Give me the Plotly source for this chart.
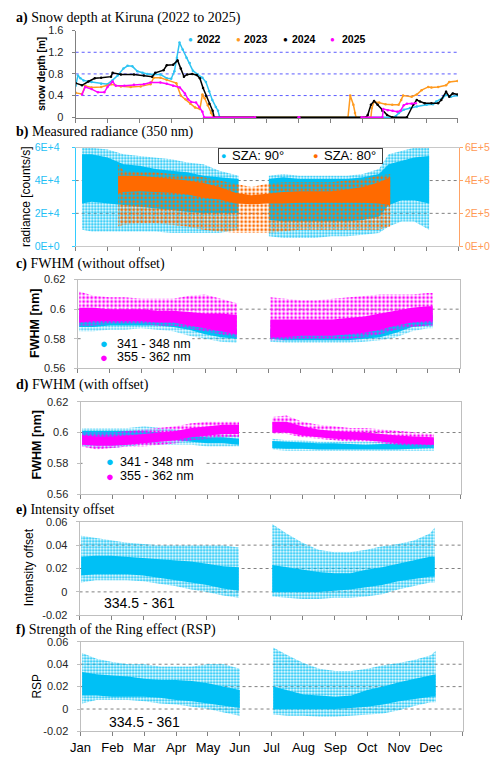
import plotly.graph_objects as go

W, H = 500, 763
def fx(px): return px / W
def fy(py): return 1 - py / H

months = ['Jan', 'Feb', 'Mar', 'Apr', 'May', 'Jun', 'Jul', 'Aug', 'Sep', 'Oct', 'Nov', 'Dec']

# ---------------- a) snow depth (x in months since Jan 1) ----------------
a22_x = [0, 0.07, 0.15, 0.25, 0.5, 0.8, 1.0, 1.15, 1.32, 1.5, 1.63, 1.78, 1.94, 2.1, 2.25, 2.45, 2.66, 2.86, 3.0, 3.1,
         3.18, 3.26, 3.36, 3.48, 3.58, 3.68, 3.83, 3.98, 4.09, 4.19, 4.29, 4.4, 4.47, 4.52, 10.0,
         10.05, 10.15, 10.3, 10.5, 10.71, 11.02, 11.22, 11.32, 11.53, 11.63, 11.78, 11.99]
a22_y = [0.58, 0.77, 0.72, 0.68, 0.65, 0.62, 0.61, 0.68, 0.77, 0.9, 0.95, 0.94, 0.85, 0.82, 0.8, 0.79, 0.79, 0.72, 0.71, 0.85,
         1.1, 1.38, 1.25, 1.1, 1.0, 0.86, 0.79, 0.73, 0.65, 0.48, 0.32, 0.19, 0.12, 0.0, 0.0,
         0.02, 0.08, 0.14, 0.17, 0.2, 0.23, 0.24, 0.29, 0.36, 0.41, 0.38, 0.4]

a23_x = [0, 0.2, 0.3, 0.5, 0.8, 1.11, 1.42, 1.73, 2.04, 2.35, 2.45, 2.66, 2.86, 3.16, 3.3, 3.45, 3.6, 3.75, 3.9, 3.98,
         4.05, 4.15, 4.25, 4.32, 8.55, 8.62, 8.72, 8.77, 8.8, 9.27, 9.3, 9.37, 9.53, 9.73, 9.94, 10.14, 10.22,
         10.28, 10.55, 10.71, 10.86, 11.07, 11.17, 11.38, 11.63, 11.73, 11.99]
a23_y = [0.45, 0.43, 0.58, 0.55, 0.56, 0.61, 0.57, 0.56, 0.57, 0.61, 0.73, 0.73, 0.69, 0.63, 0.4, 0.33, 0.25, 0.18, 0.15, 0.42,
         0.35, 0.22, 0.08, 0.0, 0.0, 0.4, 0.23, 0.08, 0.0, 0.0, 0.17, 0.29, 0.27, 0.24, 0.23, 0.23, 0.32,
         0.4, 0.38, 0.42, 0.5, 0.56, 0.55, 0.56, 0.59, 0.65, 0.67]

a24_x = [0, 0.2, 0.4, 0.6, 0.8, 1.11, 1.16, 1.42, 1.83, 2.14, 2.4, 2.5, 2.76, 2.86, 3.06, 3.2, 3.3, 3.4, 3.5, 3.66,
         3.8, 3.9, 4.0, 4.1, 4.2, 4.3, 4.35, 9.12, 9.17, 9.27, 9.37, 9.48, 9.63, 9.78, 9.94, 10.4,
         10.6, 10.71, 10.81, 10.96, 11.17, 11.38, 11.48, 11.63, 11.73, 11.84, 11.99]
a24_y = [0.63, 0.59, 0.66, 0.72, 0.73, 0.75, 0.82, 0.79, 0.79, 0.77, 0.75, 0.82, 0.87, 0.96, 0.97, 1.05, 0.9, 0.75, 0.79, 0.8,
         0.78, 0.72, 0.54, 0.39, 0.25, 0.12, 0.0, 0.0, 0.04, 0.23, 0.3, 0.23, 0.12, 0.04, 0.0, 0.0,
         0.23, 0.32, 0.29, 0.26, 0.26, 0.26, 0.32, 0.47, 0.38, 0.44, 0.42]

a25_x = [0.2, 0.3, 0.5, 0.7, 0.9, 1.0, 1.16, 1.26, 1.53, 1.83, 2.14, 2.35, 2.66, 2.86, 3.06, 3.27, 3.43, 3.53, 3.63, 3.78,
         3.88, 3.98, 4.03, 5.63, None, 7.0, 7.02, None, 8.98, 9.63, 9.66, 9.8, 9.95, 10.1, 10.2, 10.3, 10.4, 10.55, 10.68]
a25_y = [0.42, 0.56, 0.52, 0.46, 0.46, 0.56, 0.66, 0.58, 0.58, 0.6, 0.61, 0.64, 0.64, 0.62, 0.58, 0.55, 0.44, 0.33, 0.28, 0.27,
         0.19, 0.1, 0.0, 0.0, None, 0.0, 0.0, None, 0.0, 0.0, 0.15, 0.13, 0.12, 0.1, 0.12, 0.22, 0.25, 0.25, 0.26]

# ---------------- b) measured radiance: envelopes of the point clouds ----------------
b90_x1 = [0.2, 0.5, 1.0, 1.5, 2.0, 2.5, 3.0, 3.5, 4.0, 4.5, 5.1]
b90_core_lo1 = [2.6e4, 2.7e4, 2.6e4, 2.5e4, 2.4e4, 2.3e4, 2.2e4, 2.1e4, 2.0e4, 2.0e4, 2.0e4]
b90_core_hi1 = [5.6e4, 5.6e4, 5.4e4, 5.0e4, 4.9e4, 4.7e4, 4.6e4, 4.5e4, 4.3e4, 4.2e4, 4.1e4]
b90_all_lo1 = [1.0e4, 0.9e4, 0.9e4, 0.9e4, 0.9e4, 0.9e4, 0.8e4, 0.8e4, 0.8e4, 0.8e4, 1.0e4]
b90_all_hi1 = [6.0e4, 6.0e4, 5.9e4, 5.6e4, 5.5e4, 5.4e4, 5.3e4, 5.1e4, 5.0e4, 4.6e4, 4.3e4]
b90_x2 = [6.05, 6.5, 7.0, 7.5, 8.0, 8.5, 9.0, 9.5, 9.8, 10.2, 10.6, 11.07]
b90_core_lo2 = [1.6e4, 1.5e4, 1.5e4, 1.5e4, 1.5e4, 1.5e4, 1.6e4, 1.8e4, 2.5e4, 2.8e4, 2.8e4, 2.6e4]
b90_core_hi2 = [4.1e4, 4.2e4, 4.1e4, 4.1e4, 4.1e4, 4.1e4, 4.2e4, 4.4e4, 5.0e4, 5.2e4, 5.4e4, 5.5e4]
b90_all_lo2 = [0.6e4, 0.5e4, 0.5e4, 0.5e4, 0.6e4, 0.6e4, 0.7e4, 0.8e4, 1.2e4, 1.5e4, 1.5e4, 1.0e4]
b90_all_hi2 = [4.3e4, 4.4e4, 4.3e4, 4.3e4, 4.3e4, 4.3e4, 4.4e4, 4.7e4, 5.6e4, 5.8e4, 6.0e4, 6.0e4]

b80_x = [1.33, 1.5, 2.0, 2.5, 3.0, 3.5, 4.0, 4.5, 5.0, 5.5, 6.0, 6.5, 7.0, 7.5, 8.0, 8.5, 9.0, 9.5, 9.85]
b80_core_lo = [3.2e5, 3.3e5, 3.35e5, 3.3e5, 3.25e5, 3.15e5, 2.95e5, 2.85e5, 2.6e5, 2.55e5, 2.6e5, 2.6e5, 2.65e5, 2.65e5,
               2.65e5, 2.65e5, 2.65e5, 2.6e5, 2.5e5]
b80_core_hi = [4.3e5, 4.3e5, 4.3e5, 4.2e5, 4.1e5, 4.0e5, 3.85e5, 3.6e5, 3.25e5, 3.1e5, 3.2e5, 3.3e5, 3.35e5, 3.35e5,
               3.35e5, 3.45e5, 3.6e5, 3.9e5, 4.2e5]
b80_all_lo = [1.2e5, 1.3e5, 1.4e5, 1.4e5, 1.3e5, 1.2e5, 1.0e5, 0.9e5, 0.8e5, 0.8e5, 0.8e5, 0.9e5, 1.0e5, 1.0e5,
              1.0e5, 1.0e5, 1.0e5, 1.0e5, 1.2e5]
b80_all_hi = [5.0e5, 4.6e5, 4.5e5, 4.5e5, 4.4e5, 4.3e5, 4.2e5, 4.0e5, 3.8e5, 3.6e5, 3.8e5, 3.9e5, 3.9e5, 3.9e5,
              3.9e5, 4.0e5, 4.1e5, 4.3e5, 4.4e5]

# common time grids of the two measurement periods (panels c-f)
seg1_x = [0.05, 0.5, 1.0, 1.5, 2.0, 2.5, 3.0, 3.5, 4.0, 4.5, 5.0]
seg2_x = [6.05, 6.5, 7.0, 7.5, 8.0, 8.5, 9.0, 9.5, 10.0, 10.5, 11.0, 11.15]

# ---------------- c) FWHM without offset ----------------
c341_core_lo1 = [0.588, 0.588, 0.589, 0.589, 0.589, 0.589, 0.588, 0.586, 0.583, 0.581, 0.580]
c341_core_hi1 = [0.596, 0.595, 0.595, 0.595, 0.595, 0.594, 0.594, 0.592, 0.589, 0.587, 0.586]
c341_all_lo1 = [0.585, 0.585, 0.586, 0.586, 0.587, 0.586, 0.585, 0.582, 0.580, 0.578, 0.577]
c341_all_hi1 = [0.600, 0.599, 0.598, 0.598, 0.598, 0.598, 0.597, 0.597, 0.595, 0.594, 0.592]
c355_core_lo1 = [0.591, 0.592, 0.592, 0.592, 0.592, 0.591, 0.591, 0.589, 0.587, 0.585, 0.583]
c355_core_hi1 = [0.601, 0.601, 0.600, 0.600, 0.600, 0.599, 0.599, 0.598, 0.597, 0.597, 0.596]
c355_all_lo1 = [0.589, 0.589, 0.590, 0.590, 0.590, 0.589, 0.589, 0.587, 0.585, 0.583, 0.581]
c355_all_hi1 = [0.612, 0.609, 0.608, 0.608, 0.607, 0.607, 0.607, 0.609, 0.610, 0.607, 0.604]
c341_core_lo2 = [0.580, 0.579, 0.579, 0.579, 0.579, 0.579, 0.580, 0.581, 0.584, 0.588, 0.589, 0.589]
c341_core_hi2 = [0.586, 0.585, 0.585, 0.585, 0.585, 0.585, 0.586, 0.588, 0.591, 0.594, 0.596, 0.596]
c341_all_lo2 = [0.578, 0.577, 0.577, 0.577, 0.577, 0.577, 0.578, 0.579, 0.581, 0.585, 0.587, 0.587]
c341_all_hi2 = [0.592, 0.590, 0.590, 0.590, 0.590, 0.590, 0.591, 0.593, 0.596, 0.598, 0.600, 0.600]
c355_core_lo2 = [0.581, 0.581, 0.582, 0.582, 0.582, 0.583, 0.584, 0.586, 0.589, 0.591, 0.592, 0.592]
c355_core_hi2 = [0.593, 0.593, 0.593, 0.593, 0.593, 0.594, 0.595, 0.597, 0.599, 0.601, 0.602, 0.602]
c355_all_lo2 = [0.579, 0.579, 0.580, 0.580, 0.580, 0.580, 0.581, 0.583, 0.586, 0.588, 0.589, 0.589]
c355_all_hi2 = [0.608, 0.607, 0.606, 0.606, 0.607, 0.608, 0.609, 0.610, 0.610, 0.610, 0.611, 0.611]

# ---------------- d) FWHM with offset ----------------
d341_core_lo1 = [0.594, 0.594, 0.594, 0.595, 0.595, 0.595, 0.595, 0.594, 0.593, 0.593, 0.592]
d341_core_hi1 = [0.601, 0.601, 0.601, 0.601, 0.601, 0.600, 0.599, 0.598, 0.597, 0.597, 0.596]
d341_all_lo1 = [0.591, 0.590, 0.590, 0.591, 0.592, 0.592, 0.592, 0.592, 0.591, 0.591, 0.591]
d341_all_hi1 = [0.603, 0.603, 0.603, 0.603, 0.604, 0.603, 0.602, 0.601, 0.599, 0.599, 0.598]
d355_core_lo1 = [0.592, 0.5915, 0.5915, 0.592, 0.593, 0.594, 0.595, 0.597, 0.598, 0.599, 0.599]
d355_core_hi1 = [0.598, 0.5975, 0.5975, 0.598, 0.599, 0.600, 0.601, 0.603, 0.604, 0.605, 0.605]
d355_all_lo1 = [0.591, 0.589, 0.590, 0.591, 0.591, 0.592, 0.593, 0.595, 0.596, 0.597, 0.597]
d355_all_hi1 = [0.600, 0.600, 0.600, 0.601, 0.602, 0.603, 0.604, 0.606, 0.607, 0.607, 0.607]
d341_core_lo2 = [0.590, 0.5895, 0.5895, 0.589, 0.589, 0.589, 0.589, 0.589, 0.589, 0.5895, 0.590, 0.590]
d341_core_hi2 = [0.5945, 0.594, 0.5935, 0.593, 0.593, 0.5925, 0.592, 0.5925, 0.593, 0.5935, 0.594, 0.594]
d341_all_lo2 = [0.589, 0.588, 0.588, 0.588, 0.588, 0.588, 0.588, 0.588, 0.588, 0.588, 0.588, 0.588]
d341_all_hi2 = [0.596, 0.595, 0.595, 0.594, 0.594, 0.594, 0.594, 0.594, 0.595, 0.595, 0.596, 0.596]
d355_core_lo2 = [0.600, 0.600, 0.598, 0.597, 0.596, 0.5955, 0.595, 0.594, 0.593, 0.5925, 0.592, 0.592]
d355_core_hi2 = [0.607, 0.607, 0.604, 0.602, 0.601, 0.6005, 0.600, 0.599, 0.598, 0.5975, 0.597, 0.597]
d355_all_lo2 = [0.599, 0.599, 0.597, 0.596, 0.595, 0.594, 0.594, 0.593, 0.592, 0.591, 0.591, 0.591]
d355_all_hi2 = [0.610, 0.611, 0.607, 0.605, 0.604, 0.603, 0.603, 0.602, 0.601, 0.600, 0.599, 0.599]

# ---------------- e) intensity offset ----------------
e_core_lo1 = [0.014, 0.015, 0.015, 0.015, 0.014, 0.012, 0.010, 0.008, 0.006, 0.003, 0.001]
e_core_hi1 = [0.030, 0.031, 0.031, 0.030, 0.029, 0.028, 0.027, 0.026, 0.024, 0.022, 0.021]
e_all_lo1 = [0.008, 0.010, 0.010, 0.010, 0.009, 0.007, 0.005, 0.002, 0.000, -0.003, -0.005]
e_all_hi1 = [0.048, 0.046, 0.044, 0.042, 0.041, 0.040, 0.040, 0.040, 0.040, 0.040, 0.038]
e_core_lo2 = [0.000, 0.000, 0.000, 0.000, 0.001, 0.002, 0.004, 0.006, 0.009, 0.011, 0.013, 0.013]
e_core_hi2 = [0.023, 0.021, 0.019, 0.017, 0.016, 0.016, 0.019, 0.021, 0.024, 0.027, 0.030, 0.030]
e_all_lo2 = [-0.004, -0.005, -0.006, -0.006, -0.005, -0.005, -0.004, -0.002, 0.002, 0.005, 0.008, 0.008]
e_all_hi2 = [0.058, 0.050, 0.042, 0.036, 0.034, 0.034, 0.036, 0.039, 0.041, 0.044, 0.050, 0.055]

# ---------------- f) Ring effect strength (RSP) ----------------
f_core_lo1 = [0.012, 0.012, 0.011, 0.011, 0.011, 0.010, 0.008, 0.007, 0.005, 0.003, 0.001]
f_core_hi1 = [0.033, 0.031, 0.030, 0.029, 0.027, 0.026, 0.026, 0.025, 0.023, 0.020, 0.017]
f_all_lo1 = [0.005, 0.008, 0.008, 0.008, 0.007, 0.005, 0.004, 0.002, 0.000, -0.003, -0.006]
f_all_hi1 = [0.050, 0.045, 0.042, 0.040, 0.040, 0.038, 0.038, 0.038, 0.040, 0.040, 0.036]
f_core_lo2 = [0.000, 0.000, 0.000, 0.000, 0.000, 0.001, 0.002, 0.004, 0.007, 0.009, 0.011, 0.011]
f_core_hi2 = [0.020, 0.017, 0.013, 0.012, 0.011, 0.012, 0.017, 0.020, 0.024, 0.027, 0.030, 0.031]
f_all_lo2 = [-0.005, -0.006, -0.006, -0.007, -0.007, -0.006, -0.005, -0.004, -0.001, 0.003, 0.006, 0.006]
f_all_hi2 = [0.055, 0.048, 0.041, 0.036, 0.034, 0.034, 0.036, 0.039, 0.041, 0.044, 0.048, 0.052]

# gridline values per panel
grid_a = [0.4, 0.8, 1.2]
grid_b = [2e4, 4e4]
grid_cd = [0.58, 0.6]
grid_ef = [0, 0.02, 0.04]

# ---------------- styling ----------------
C22, C23, C24, C25 = '#2EC4F2', '#FF9A1F', '#000000', '#FF00FF'
CYAN, MAG, ORG = '#00C0F5', '#FF00FF', '#FF6A00'
ORG_AX = '#FFA366'
FRAME = '#BFBFBF'
SANS = 'Liberation Sans, Arial, sans-serif'
SERIF = 'Liberation Serif, Times New Roman, serif'

fig = go.Figure()


def band(xs, lo, hi, color, xa, ya, name, sparse=False, psize=4, solid=0.4):
    kw = {}
    if sparse:
        kw['fillcolor'] = 'rgba(0,0,0,0)'
        kw['fillpattern'] = dict(shape='.', fgcolor=color, bgcolor='rgba(0,0,0,0)', size=psize,
                                 solidity=solid, fillmode='replace')
    else:
        kw['fillcolor'] = color
    fig.add_trace(go.Scatter(
        x=list(xs) + list(xs)[::-1], y=list(hi) + list(lo)[::-1],
        fill='toself', line=dict(width=0, color=color), mode='lines',
        hoverinfo='skip', showlegend=False, name=name, xaxis=xa, yaxis=ya, **kw))


# a) lines with dots
for xs, ys, col, nm in [(a22_x, a22_y, C22, '2022'), (a23_x, a23_y, C23, '2023'),
                        (a24_x, a24_y, C24, '2024'), (a25_x, a25_y, C25, '2025')]:
    fig.add_trace(go.Scatter(x=xs, y=ys, mode='lines+markers', name=nm, showlegend=False,
                             line=dict(color=col, width=1.5), marker=dict(color=col, size=2.5),
                             connectgaps=False, xaxis='x', yaxis='y'))

# b) clouds (SZA 80° drawn on top)
band(b90_x1, b90_all_lo1, b90_all_hi1, CYAN, 'x2', 'y2', 'SZA: 90°', sparse=True, psize=3, solid=0.45)
band(b90_x1, b90_core_lo1, b90_core_hi1, CYAN, 'x2', 'y2', 'SZA: 90°')
band(b90_x2, b90_all_lo2, b90_all_hi2, CYAN, 'x2', 'y2', 'SZA: 90°', sparse=True, psize=3, solid=0.45)
band(b90_x2, b90_core_lo2, b90_core_hi2, CYAN, 'x2', 'y2', 'SZA: 90°')
band(b80_x, b80_all_lo, b80_all_hi, ORG, 'x2', 'y7', 'SZA: 80°', sparse=True, psize=4, solid=0.4)
band(b80_x, b80_core_lo, b80_core_hi, ORG, 'x2', 'y7', 'SZA: 80°')

# c) and d)
g = globals()
for pre, xa, ya in [('c', 'x3', 'y3'), ('d', 'x4', 'y4')]:
    for k, xs in (('1', seg1_x), ('2', seg2_x)):
        band(xs, g[pre + '341_all_lo' + k], g[pre + '341_all_hi' + k], CYAN, xa, ya, '341 - 348 nm', sparse=True, psize=3)
        band(xs, g[pre + '341_core_lo' + k], g[pre + '341_core_hi' + k], CYAN, xa, ya, '341 - 348 nm')
    for k, xs in (('1', seg1_x), ('2', seg2_x)):
        band(xs, g[pre + '355_all_lo' + k], g[pre + '355_all_hi' + k], MAG, xa, ya, '355 - 362 nm', sparse=True, psize=4)
        band(xs, g[pre + '355_core_lo' + k], g[pre + '355_core_hi' + k], MAG, xa, ya, '355 - 362 nm')

# e) and f)
for pre, xa, ya in [('e', 'x5', 'y5'), ('f', 'x6', 'y6')]:
    for k, xs in (('1', seg1_x), ('2', seg2_x)):
        band(xs, g[pre + '_all_lo' + k], g[pre + '_all_hi' + k], CYAN, xa, ya, '334.5 - 361', sparse=True, psize=3, solid=0.45)
        band(xs, g[pre + '_core_lo' + k], g[pre + '_core_hi' + k], CYAN, xa, ya, '334.5 - 361')


def xax(px0, px1, anchor, labels=False, mirror=True, linecolor=FRAME):
    return dict(domain=[fx(px0), fx(px1)], anchor=anchor, range=[0, 12], tickmode='array',
                tickvals=list(range(13)), ticktext=months + [''], showticklabels=labels,
                ticks='outside', ticklen=4, tickcolor='#808080', showline=True, linecolor=linecolor,
                mirror=mirror, showgrid=False, zeroline=False, fixedrange=True,
                tickfont=dict(size=13, color='black', family=SANS))


def yax(py0, py1, anchor, rng, vals, texts, linecolor=FRAME, mirror=True,
        fontcolor='#262626', size=11, standoff=6):
    return dict(domain=[fy(py1), fy(py0)], anchor=anchor, range=rng, tickmode='array', tickvals=vals,
                ticktext=texts, showgrid=False, showline=True, linecolor=linecolor, mirror=mirror,
                zeroline=False, ticks='outside', ticklen=3, tickcolor=linecolor,
                ticklabelstandoff=standoff, fixedrange=True,
                tickfont=dict(size=size, color=fontcolor, family=SANS))


fig.update_layout(
    width=W, height=H, margin=dict(l=0, r=0, t=0, b=0),
    paper_bgcolor='white', plot_bgcolor='white', showlegend=False,
    font=dict(family=SANS, color='black'),
    xaxis=xax(67, 457, 'y', mirror=False, linecolor='#808080'),
    # small negative lower bound so the zero-depth summer runs stay visible above the axis line
    yaxis=yax(25, 114, 'x', [-0.018, 1.6], [0, 0.4, 0.8, 1.2, 1.6], ['0', '0.4', '0.8', '1.2', '1.6'],
              linecolor='#808080', mirror=False, standoff=6),
    xaxis2=xax(67, 458, 'y2', mirror=True, linecolor='#C8C8C8'),
    yaxis2=yax(144, 244, 'x2', [0, 6e4], [0, 2e4, 4e4, 6e4], ['0E+0', '2E+4', '4E+4', '6E+4'],
               linecolor='#33CCFF', mirror=False, fontcolor='#1EC0F5', size=10.5, standoff=10),
    yaxis7=dict(domain=[fy(244), fy(144)], anchor='x2', overlaying='y2', side='right', range=[0, 6e5],
                tickmode='array', tickvals=[0, 2e5, 4e5, 6e5], ticktext=['0E+0', '2E+5', '4E+5', '6E+5'],
                showgrid=False, showline=True, linecolor=ORG_AX, zeroline=False, ticks='outside', ticklen=3,
                tickcolor=ORG_AX, fixedrange=True, tickfont=dict(size=10.5, color='#FF9955', family=SANS)),
    xaxis3=xax(69, 459, 'y3'),
    yaxis3=yax(278, 368, 'x3', [0.56, 0.62], [0.56, 0.58, 0.6, 0.62], ['0.56', '0.58', '0.6', '0.62']),
    xaxis4=xax(72, 460, 'y4'),
    yaxis4=yax(402, 496, 'x4', [0.56, 0.62], [0.56, 0.58, 0.6, 0.62], ['0.56', '0.58', '0.6', '0.62']),
    xaxis5=xax(71, 461, 'y5'),
    yaxis5=yax(524, 619, 'x5', [-0.02, 0.06], [-0.02, 0, 0.02, 0.04, 0.06],
               ['-0.02', '0', '0.02', '0.04', '0.06']),
    xaxis6=xax(72, 462, 'y6', labels=True),
    yaxis6=yax(646, 737, 'x6', [-0.02, 0.06], [-0.02, 0, 0.02, 0.04, 0.06],
               ['-0.02', '0', '0.02', '0.04', '0.06']),
)

shapes = []
# dotted gridlines (interior values only)
for xa, ya, vals, col in [('x', 'y', grid_a, '#5B5BFF'), ('x2', 'y2', grid_b, '#808080'),
                          ('x3', 'y3', grid_cd, '#808080'), ('x4', 'y4', grid_cd, '#808080'),
                          ('x5', 'y5', grid_ef, '#808080'), ('x6', 'y6', grid_ef, '#808080')]:
    for v in vals:
        shapes.append(dict(type='line', xref=xa + ' domain', yref=ya, x0=0, x1=1, y0=v, y1=v,
                           line=dict(color=col, width=1, dash='dot'), layer='below'))

ann = []


def text(px, py, s, size=12, color='black', family=SANS, xanchor='center', angle=0, **kw):
    d = dict(x=fx(px), y=fy(py), xref='paper', yref='paper', text=s, showarrow=False,
             font=dict(size=size, color=color, family=family), xanchor=xanchor, yanchor='middle',
             textangle=angle)
    d.update(kw)
    ann.append(d)


# panel titles
titles = [(12.5, '<b>a)</b> Snow depth at Kiruna (2022 to 2025)'),
          (128, '<b>b)</b> Measured radiance (350 nm)'),
          (262, '<b>c)</b> FWHM (without offset)'),
          (385, '<b>d)</b> FWHM (with offset)'),
          (512, '<b>e)</b> Intensity offset'),
          (634, '<b>f)</b> Strength of the Ring effect (RSP)')]
for py, s in titles:
    text(4, py, s, size=14, family=SERIF, xanchor='left')

# y-axis titles
text(32, 68.5, '<b>snow depth [m]</b>', size=10, angle=-90)
text(17, 193.5, 'radiance [counts/s]', size=12, angle=-90)
text(25.5, 322, '<b>FWHM [nm]</b>', size=12.5, angle=-90)
text(28, 446, '<b>FWHM [nm]</b>', size=12.5, angle=-90)
text(19, 570.5, 'Intensity offset', size=12, angle=-90)
text(28, 691, 'RSP', size=12, angle=-90)

# legend a
for dx, tx, col, s in [(184, 189, C22, '2022'), (233, 237, C23, '2023'), (281, 286, C24, '2024'), (329, 337, C25, '2025')]:
    text(dx, 34, '●', size=8, color=col)
    text(tx, 34, '<b>' + s + '</b>', size=10.5, xanchor='left')

# legend b (boxed)
ann.append(dict(x=fx(212), y=fy(144), xref='paper', yref='paper', xanchor='left', yanchor='top',
                text='', showarrow=False, width=163, height=14, bgcolor='white',
                bordercolor='#404040', borderwidth=1, borderpad=0))
text(218, 152, '●', size=9, color=CYAN)
text(224, 152, 'SZA: 90°', size=13, xanchor='left')
text(312, 152, '●', size=9, color=ORG)
text(318, 152, 'SZA: 80°', size=13, xanchor='left')

# legends c, d (white backing)
for (x0, x1, y0, y1) in [(74, 186, 336, 366), (74, 198, 456, 486)]:
    shapes.append(dict(type='rect', xref='paper', yref='paper', x0=fx(x0), x1=fx(x1), y0=fy(y1), y1=fy(y0),
                       fillcolor='white', line=dict(width=0), layer='above'))
for dx, tx, y1, y2 in [(96, 107, 343, 357), (102, 110, 463, 478)]:
    text(dx, y1, '●', size=13, color=CYAN)
    text(tx, y1, '341 - 348 nm', size=12.5, xanchor='left')
    text(dx, y2, '●', size=13, color=MAG)
    text(tx, y2, '355 - 362 nm', size=12.5, xanchor='left')

# wavelength range labels e, f
text(132, 607, '334.5 - 361', size=14)
text(137, 727, '334.5 - 361', size=14)

fig.update_layout(annotations=ann, shapes=shapes)
fig.write_html('out.html')
